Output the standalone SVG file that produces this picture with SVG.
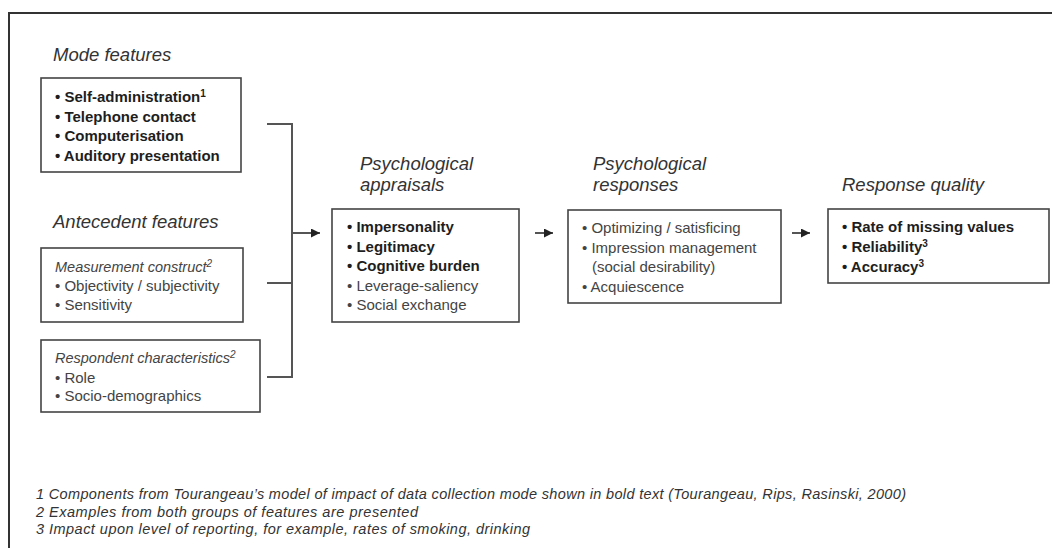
<svg xmlns="http://www.w3.org/2000/svg" width="1052" height="548" viewBox="0 0 1052 548">
<style>
text{font-family:"Liberation Sans",Arial,sans-serif}
.title{font-size:18.5px;font-style:italic;fill:#333}
.b{font-size:15px;font-weight:bold;fill:#1e1e1e}
.n{font-size:15px;fill:#444}
.ni{font-size:14.5px;font-style:italic;fill:#444}
.fn{font-size:14.5px;font-style:italic;fill:#333}
.box{fill:#fff;stroke:#444;stroke-width:1.6}
.conn{fill:none;stroke:#555;stroke-width:2}
.sup{font-size:10px}
</style>
<defs>
<marker id="ah" viewBox="0 0 10 10" refX="10" refY="5" markerWidth="10" markerHeight="9" markerUnits="userSpaceOnUse" orient="auto">
<path d="M0,0 L10,5 L0,10 z" fill="#222"/>
</marker>
</defs>
<rect width="1052" height="548" fill="#fff"/>
<path d="M9,548 V13 H1052" fill="none" stroke="#333" stroke-width="2"/>

<g id="mode-features">
<text class="title" x="53" y="61">Mode features</text>
<rect class="box" x="41" y="78" width="200" height="94"/>
<text class="b" x="55" y="102">• Self-administration<tspan class="sup" dy="-5">1</tspan></text>
<text class="b" x="55" y="121.5">• Telephone contact</text>
<text class="b" x="55" y="141">• Computerisation</text>
<text class="b" x="55" y="160.5">• Auditory presentation</text>
</g>

<g id="antecedent-features">
<text class="title" x="53" y="228">Antecedent features</text>
</g>

<g id="measurement-construct">
<rect class="box" x="41" y="248" width="202" height="74"/>
<text class="ni" x="55" y="271.5">Measurement construct<tspan class="sup" dy="-5">2</tspan></text>
<text class="n" x="55" y="291">• Objectivity / subjectivity</text>
<text class="n" x="55" y="310">• Sensitivity</text>
</g>

<g id="respondent-characteristics">
<rect class="box" x="41" y="340" width="219" height="72"/>
<text class="ni" x="55" y="363">Respondent characteristics<tspan class="sup" dy="-5">2</tspan></text>
<text class="n" x="55" y="382.5">• Role</text>
<text class="n" x="55" y="401">• Socio-demographics</text>
</g>

<g id="psychological-appraisals">
<text class="title" x="360" y="170">Psychological</text>
<text class="title" x="360" y="191">appraisals</text>
<rect class="box" x="332" y="209" width="187" height="113"/>
<text class="b" x="347" y="232">• Impersonality</text>
<text class="b" x="347" y="251.5">• Legitimacy</text>
<text class="b" x="347" y="271">• Cognitive burden</text>
<text class="n" x="347" y="290.5">• Leverage-saliency</text>
<text class="n" x="347" y="310">• Social exchange</text>
</g>

<g id="psychological-responses">
<text class="title" x="593" y="170">Psychological</text>
<text class="title" x="593" y="191">responses</text>
<rect class="box" x="568" y="210" width="213" height="93"/>
<text class="n" x="582" y="232.5">• Optimizing / satisficing</text>
<text class="n" x="582" y="252.5">• Impression management</text>
<text class="n" x="592" y="272">(social desirability)</text>
<text class="n" x="582" y="291.5">• Acquiescence</text>
</g>

<g id="response-quality">
<text class="title" x="842" y="190.5">Response quality</text>
<rect class="box" x="828" y="209" width="221" height="74"/>
<text class="b" x="842" y="232">• Rate of missing values</text>
<text class="b" x="842" y="252">• Reliability<tspan class="sup" dy="-5">3</tspan></text>
<text class="b" x="842" y="271.5">• Accuracy<tspan class="sup" dy="-5">3</tspan></text>
</g>

<g id="connectors">
<path class="conn" d="M267,124 H292 V377 H267"/>
<path class="conn" d="M267,283 H292"/>
<path class="conn" d="M292,233 H320" marker-end="url(#ah)"/>
<path class="conn" d="M535,233 H553" marker-end="url(#ah)"/>
<path class="conn" d="M792,233 H810" marker-end="url(#ah)"/>
</g>

<g id="footnotes">
<text class="fn" x="36" y="499" textLength="870" lengthAdjust="spacing">1 Components from Tourangeau’s model of impact of data collection mode shown in bold text (Tourangeau, Rips, Rasinski, 2000)</text>
<text class="fn" x="36" y="516.5" textLength="382" lengthAdjust="spacing">2 Examples from both groups of features are presented</text>
<text class="fn" x="36" y="534" textLength="494" lengthAdjust="spacing">3 Impact upon level of reporting, for example, rates of smoking, drinking</text>
</g>
</svg>
